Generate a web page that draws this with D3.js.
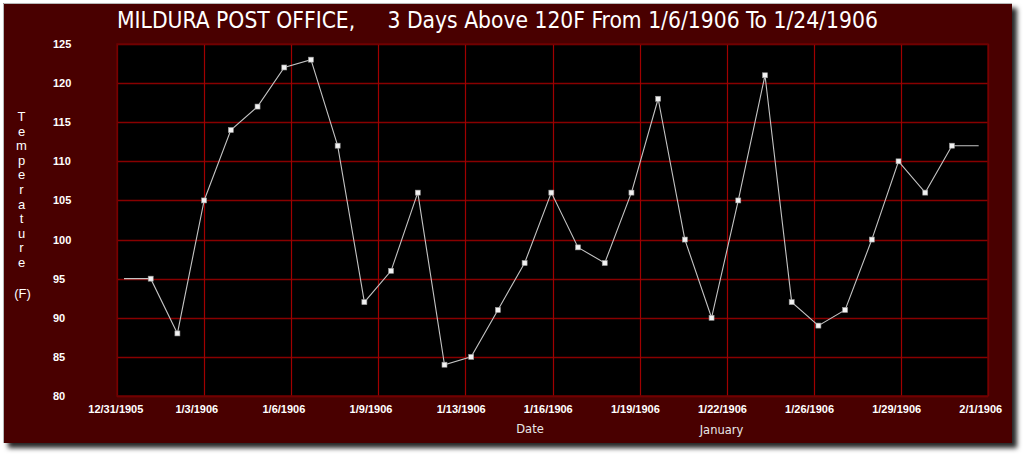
<!DOCTYPE html>
<html>
<head>
<meta charset="utf-8">
<script src="https://cdn.jsdelivr.net/npm/d3@7"></script>
<style>
  html, body { margin: 0; padding: 0; background: #ffffff; }
  svg { display: block; }
</style>
</head>
<body>
<svg id="chart" width="1024" height="454"></svg>
<script>
// ---------------- data ----------------
const chartTitle = "MILDURA POST OFFICE,     3 Days Above 120F From 1/6/1906 To 1/24/1906";
// day of January 1906
const days = [1,2,3,4,5,6,7,8,9,10,11,12,13,14,15,16,17,18,19,20,21,22,23,24,25,26,27,28,29,30,31];
// daily maximum temperature (F)
const temps = [95,88,105,114,117,122,123,112,92,96,106,84,85,91,97,106,99,97,106,118,100,90,105,121,92,89,91,100,110,106,112];
// values just outside the shown range (line runs off the plot edges)
const leadIn = {day: 0, temp: 95};     // 12/31/1905
const leadOut = {day: 32, temp: 112};  // 2/1/1906
const xTickLabels = ["12/31/1905","1/3/1906","1/6/1906","1/9/1906","1/13/1906","1/16/1906","1/19/1906","1/22/1906","1/26/1906","1/29/1906","2/1/1906"];
const yTicks = [80,85,90,95,100,105,110,115,120,125];
const yTitle = ["T","e","m","p","e","r","a","t","u","r","e"];

// ---------------- layout ----------------
const svg = d3.select("#chart");
const plot = {left: 117, top: 44, right: 988, bottom: 396};

const defs = svg.append("defs");
const shadow = defs.append("filter").attr("id","shadow")
  .attr("x","-5%").attr("y","-5%").attr("width","115%").attr("height","120%");
shadow.append("feDropShadow").attr("dx",5).attr("dy",5).attr("stdDeviation",2.5)
  .attr("flood-color","#000").attr("flood-opacity",0.85);
defs.append("clipPath").attr("id","plotclip").append("rect")
  .attr("x",plot.left).attr("y",plot.top)
  .attr("width",plot.right-plot.left).attr("height",plot.bottom-plot.top);

// outer panel
svg.append("rect").attr("x",3).attr("y",3).attr("width",1009).attr("height",440)
  .attr("fill","#4a0000").attr("filter","url(#shadow)");
svg.append("path").attr("d","M3.5,443 V3.5 H1012")
  .attr("fill","none").attr("stroke","#b8b8b8").attr("stroke-width",1);

// scales
const x = d3.scaleLinear().domain([-0.262, 32.35]).range([plot.left, plot.right]);
const y = d3.scaleLinear().domain([80,125]).range([plot.bottom, plot.top]);
const xTick = d3.scalePoint().domain(xTickLabels).range([plot.left, plot.right]);

// plot background
svg.append("rect").attr("x",plot.left).attr("y",plot.top)
  .attr("width",plot.right-plot.left).attr("height",plot.bottom-plot.top)
  .attr("fill","#000000");

// horizontal grid
svg.append("g").selectAll("line").data(yTicks).join("line")
  .attr("x1",plot.left).attr("x2",plot.right)
  .attr("y1",d=>Math.round(y(d))+0.5).attr("y2",d=>Math.round(y(d))+0.5)
  .attr("stroke","#880000").attr("stroke-width",1.3);
// vertical grid
svg.append("g").selectAll("line").data(xTickLabels).join("line")
  .attr("x1",d=>Math.round(xTick(d))+0.5).attr("x2",d=>Math.round(xTick(d))+0.5)
  .attr("y1",plot.top).attr("y2",plot.bottom)
  .attr("stroke","#a00000").attr("stroke-width",1.2);

// plot border
svg.append("rect").attr("x",plot.left).attr("y",plot.top)
  .attr("width",plot.right-plot.left).attr("height",plot.bottom-plot.top)
  .attr("fill","none").attr("stroke","#6a0000").attr("stroke-width",1.5);

// data line
const lineData = [leadIn].concat(days.map((d,i)=>({day:d,temp:temps[i]}))).concat([leadOut]);
const line = d3.line().x(d=>x(d.day)).y(d=>y(d.temp));
svg.append("path").datum(lineData)
  .attr("clip-path","url(#plotclip)")
  .attr("d",line).attr("fill","none")
  .attr("stroke","#c4c4c4").attr("stroke-width",1.1);

// markers
svg.append("g").selectAll("rect").data(days).join("rect")
  .attr("x",(d)=>x(d)-2.5).attr("y",(d,i)=>y(temps[i])-2.5)
  .attr("width",5).attr("height",5)
  .attr("fill","#f2f2f2").attr("stroke","#9a9a9a").attr("stroke-width",0.6);

// y tick labels
svg.append("g").selectAll("text").data(yTicks).join("text")
  .attr("x",53).attr("y",d=>y(d)+4)
  .attr("fill","#ffffff")
  .style("font-family","'Liberation Sans', Arial, sans-serif")
  .style("font-weight","bold").style("font-size","11px")
  .text(d=>d);

// x tick labels
svg.append("g").selectAll("text").data(xTickLabels).join("text")
  .attr("x",d=>xTick(d)-28.7).attr("y",413)
  .attr("fill","#ffffff")
  .style("font-family","'Liberation Sans', Arial, sans-serif")
  .style("font-weight","bold").style("font-size","11px")
  .text(d=>d);

// y axis title (stacked letters)
svg.append("g").selectAll("text").data(yTitle).join("text")
  .attr("x",21.5).attr("y",(d,i)=>121 + i*14.6)
  .attr("text-anchor","middle").attr("fill","#ffffff")
  .style("font-family","'Liberation Sans', Arial, sans-serif")
  .style("font-size","13px")
  .text(d=>d);
svg.append("text").attr("x",22.5).attr("y",298)
  .attr("text-anchor","middle").attr("fill","#ffffff")
  .style("font-family","'Liberation Sans', Arial, sans-serif")
  .style("font-size","13px").text("(F)");

// x axis titles
svg.append("text").attr("x",530).attr("y",433)
  .attr("text-anchor","middle").attr("fill","#e8e8e8")
  .style("font-family","'DejaVu Sans', sans-serif").style("font-size","11.5px")
  .text("Date");
svg.append("text").attr("x",721.5).attr("y",434)
  .attr("text-anchor","middle").attr("fill","#e8e8e8")
  .style("font-family","'DejaVu Sans', sans-serif").style("font-size","11.5px")
  .text("January");

// title
const t = svg.append("text").attr("x",117).attr("y",28)
  .attr("fill","#ffffff")
  .style("font-family","'DejaVu Sans Condensed','DejaVu Sans', sans-serif")
  .style("font-size","20px").style("white-space","pre")
  .text(chartTitle);
const tw = t.node().getComputedTextLength();
t.style("font-size", (20*761/tw).toFixed(2)+"px");
</script>
</body>
</html>
